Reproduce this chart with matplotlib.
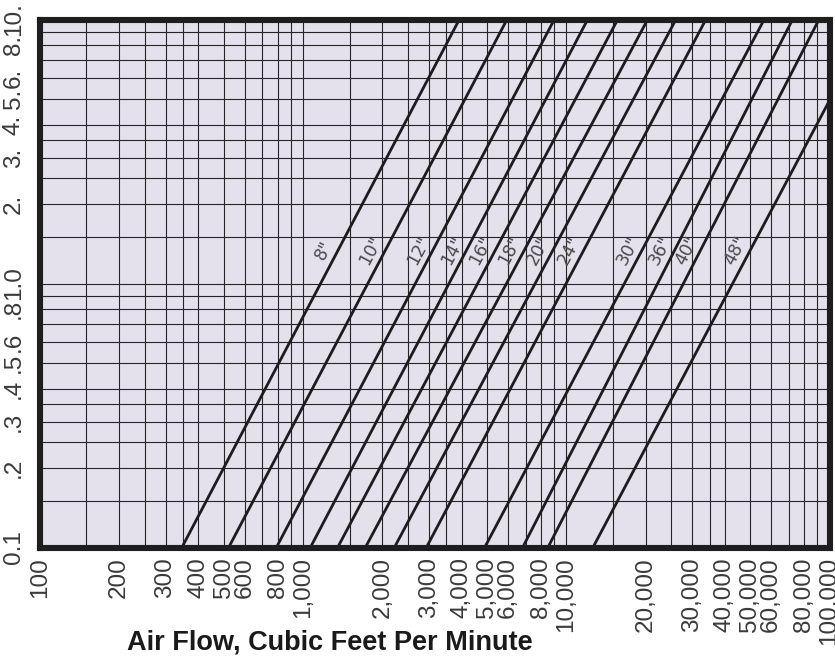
import numpy as np
import matplotlib.pyplot as plt
from matplotlib.ticker import FixedLocator, FixedFormatter, NullFormatter
import matplotlib as mpl

mpl.rcParams["font.family"] = ["Liberation Sans", "DejaVu Sans"]

# =========================
# Data
# =========================
diameters = ['8"', '10"', '12"', '14"', '16"', '18"', '20"', '24"', '30"', '36"', '40"', '48"']
# air flow (cfm) where each duct line crosses friction 0.1 and friction 10
cfm_at_low = [346, 521, 791, 1065, 1352, 1723, 2221, 2938, 4893, 6823, 8511, 12620]
cfm_at_high = [3920, 5950, 9000, 12050, 15670, 20370, 26090, 33900, 56460, 72400, 91200, 145500]
friction_low = 0.1
friction_high = 10.0
friction_label = 1.33  # friction where the size labels sit

x_ticks = [100, 200, 300, 400, 500, 600, 800, 1000, 2000, 3000, 4000, 5000, 6000,
           8000, 10000, 20000, 30000, 40000, 50000, 60000, 80000, 100000]
y_ticks = [0.1, 0.2, 0.3, 0.4, 0.5, 0.6, 0.8, 1.0, 2, 3, 4, 5, 6, 8, 10]
y_tick_labels = ["0.1", ".2", ".3", ".4", ".5", ".6", ".8", "1.0",
                 "2.", "3.", "4.", "5.", "6.", "8.", "10."]
grid_steps = [1, 1.5, 2, 2.5, 3, 3.5, 4, 5, 6, 7, 8, 9]

# =========================
# Plot
# =========================
fig = plt.figure(figsize=(8.35, 6.6), dpi=100)
ax = fig.add_axes([40 / 835, 1 - 547.5 / 660, 789.5 / 835, 528 / 660])
ax.set_facecolor("#e4e0ec")
ax.set_xscale("log")
ax.set_yscale("log")
ax.set_xlim(100, 100000)
ax.set_ylim(0.1, 10)

# grid at 1, 1.5, 2, 2.5 ... per decade (labels on the major ticks)
x_grid = [s * 10 ** d for d in range(2, 5) for s in grid_steps] + [100000]
y_grid = [s * 10 ** d for d in range(-1, 1) for s in grid_steps] + [10]
ax.xaxis.set_minor_locator(FixedLocator(x_grid))
ax.yaxis.set_minor_locator(FixedLocator(y_grid))
ax.xaxis.set_minor_formatter(NullFormatter())
ax.yaxis.set_minor_formatter(NullFormatter())

ax.xaxis.set_major_locator(FixedLocator(x_ticks))
ax.xaxis.set_major_formatter(FixedFormatter([f"{v:,}" for v in x_ticks]))
ax.yaxis.set_major_locator(FixedLocator(y_ticks))
ax.yaxis.set_major_formatter(FixedFormatter(y_tick_labels))
ax.grid(True, which="both", color="#262626", lw=0.8)
ax.tick_params(which="both", length=0)
ax.tick_params(axis="x", pad=7, labelsize=17.5, labelcolor="#3a3a3a", labelrotation=90)
ax.tick_params(axis="y", pad=11, labelsize=17.5, labelcolor="#3a3a3a", labelrotation=90)
for lab in ax.get_yticklabels():
    lab.set_va("center")

for sp in ax.spines.values():
    sp.set_linewidth(4.4)
    sp.set_color("#1e1e1e")
    sp.set_zorder(5)

# duct size lines
for name, q0, q1 in zip(diameters, cfm_at_low, cfm_at_high):
    ax.plot([q0, q1], [friction_low, friction_high], color="#1c1c1c", lw=2.0,
            solid_capstyle="butt", zorder=3)
    frac = np.log10(friction_label / friction_low) / np.log10(friction_high / friction_low)
    q_lab = q0 * (q1 / q0) ** frac
    ax.annotate(name, (q_lab, friction_label), xytext=(-10, 0),
                textcoords="offset points", ha="center", va="center",
                rotation=62, fontsize=12.5, color="#4a4a4a",
                family=["DejaVu Sans"], zorder=4)

fig.text(330 / 835, 1 - 643 / 660, "Air Flow, Cubic Feet Per Minute",
         ha="center", va="center", fontsize=19.5, fontweight="bold",
         color="#1a1a1a")

fig.savefig("out.png", dpi=100)
